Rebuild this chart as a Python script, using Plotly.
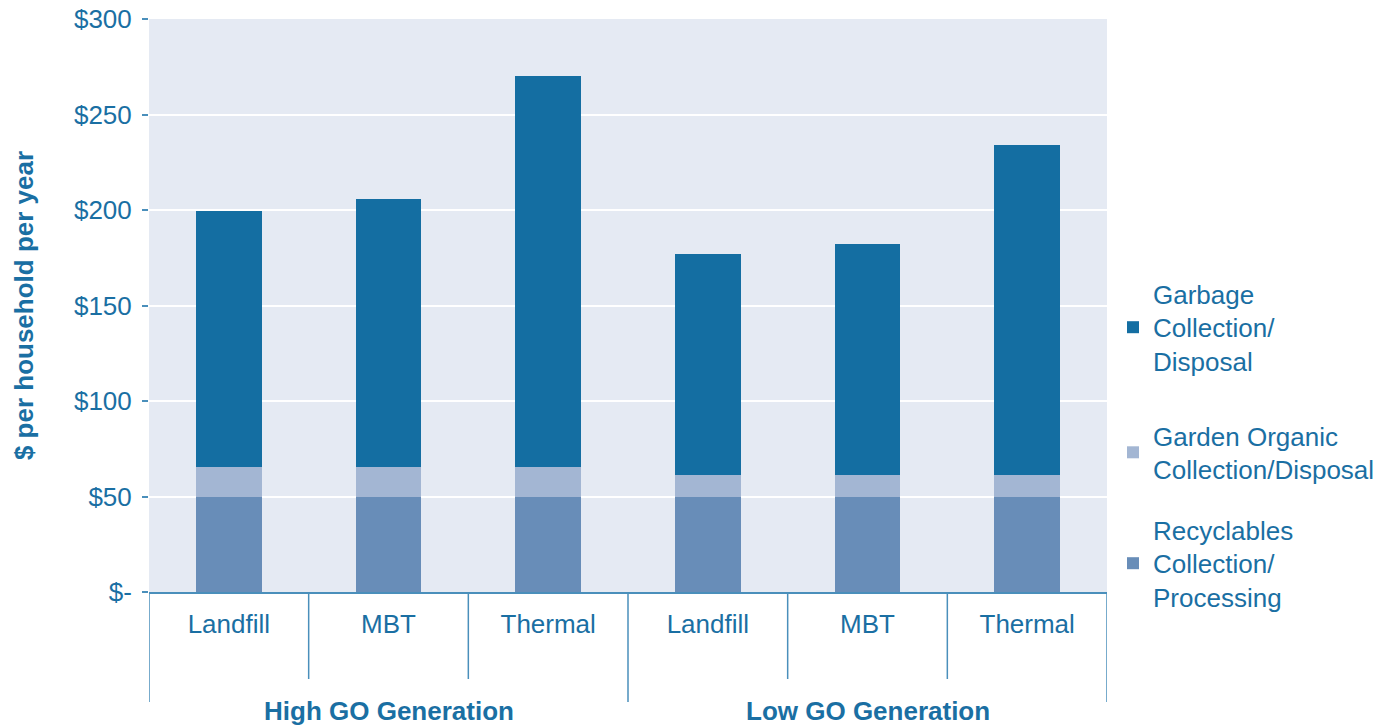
import plotly.graph_objects as go

groups = ["High GO Generation", "Low GO Generation"]
methods = ["Landfill", "MBT", "Thermal", "Landfill", "MBT", "Thermal"]
group_of = [0, 0, 0, 1, 1, 1]

recyclables = [50, 50, 50, 50, 50, 50]
garden = [15.5, 15.5, 15.5, 11, 11, 11]
garbage = [134, 140.5, 204.5, 116, 121, 173]

y_ticks = [0, 50, 100, 150, 200, 250, 300]
y_tick_text = ["$-", "$50", "$100", "$150", "$200", "$250", "$300"]

series_names = ["Recyclables<br>Collection/<br>Processing",
                "Garden Organic<br>Collection/Disposal",
                "Garbage<br>Collection/<br>Disposal"]
colors = ["#688db8", "#a3b6d3", "#146ea2"]

TXT = "#1a6fa3"
LINE = "#4a8fbb"
FONT = "Liberation Sans, Arial, sans-serif"
FS = 26

x = list(range(len(methods)))

fig = go.Figure()
legends = ["legend3", "legend2", "legend"]
for vals, name, col, lg in zip([recyclables, garden, garbage], series_names, colors, legends):
    fig.add_trace(go.Bar(x=x, y=vals, name=name, marker=dict(color=col, line=dict(width=0)),
                         width=0.413, legend=lg))

W, H = 1389, 725
ml, mr, mt, mb = 149, 282, 19, 133
ph = H - mt - mb

shapes = []
n = len(methods)
for i in range(n + 1):
    b = i - 0.5
    is_group = (i == 0 or i == n or group_of[i] != group_of[i - 1])
    depth = 110 if is_group else 87
    shapes.append(dict(type="line", xref="x", yref="paper", x0=b, x1=b, y0=0, y1=-depth / ph,
                       line=dict(color=LINE, width=1.5)))

annotations = []
for gi, g in enumerate(groups):
    idx = [i for i in range(n) if group_of[i] == gi]
    cx = (idx[0] + idx[-1]) / 2
    annotations.append(dict(x=cx, xref="x", y=-119 / ph, yref="paper", text="<b>%s</b>" % g,
                            showarrow=False, font=dict(size=FS, color=TXT, family=FONT),
                            xanchor="center", yanchor="middle"))

def leg(top_px):
    return dict(x=1113 / W, xref="container", y=1 - top_px / H, yref="container",
                xanchor="left", yanchor="top", bgcolor="rgba(0,0,0,0)",
                font=dict(size=FS, color=TXT, family=FONT), itemclick=False)

fig.update_layout(
    width=W, height=H,
    margin=dict(l=ml, r=mr, t=mt, b=mb, autoexpand=False),
    paper_bgcolor="white", plot_bgcolor="#e5eaf3",
    barmode="stack", bargap=0,
    font=dict(family=FONT, color=TXT, size=FS),
    xaxis=dict(range=[-0.5, n - 0.5], tickmode="array", tickvals=x, ticktext=methods,
               showgrid=False, zeroline=False, showline=True, linecolor=LINE, linewidth=1.5,
               ticks="", ticklabelstandoff=8, tickfont=dict(size=FS, color=TXT, family=FONT)),
    yaxis=dict(range=[0, 300], tickmode="array", tickvals=y_ticks, ticktext=y_tick_text,
               showgrid=True, gridcolor="white", gridwidth=1.5, zeroline=False, showline=False,
               ticks="outside", ticklen=6, tickcolor=LINE, tickwidth=1.5,
               ticklabelstandoff=5, ticklabeloverflow="allow",
               tickfont=dict(size=FS, color=TXT, family=FONT),
               title=dict(text="<b>$ per household per year</b>", standoff=32,
                          font=dict(size=FS, color=TXT, family=FONT))),
    legend=leg(270),
    legend2=leg(412),
    legend3=leg(506),
    shapes=shapes,
    annotations=annotations,
    showlegend=True,
)

fig.write_html("out.html", config={"displayModeBar": False},
               post_script="document.body.style.margin='0';document.body.style.overflow='hidden';")
